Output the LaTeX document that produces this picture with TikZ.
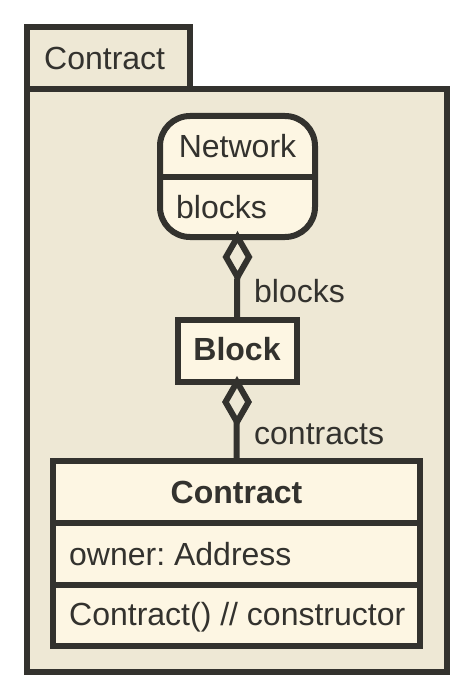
\documentclass[tikz,border=0pt]{standalone}
\usepackage{fontspec}
\setmainfont{Liberation Sans}
\usetikzlibrary{shapes.geometric}
\frenchspacing

\definecolor{ink}{HTML}{33322E}
\definecolor{pkgbg}{HTML}{EEE8D5}
\definecolor{boxbg}{HTML}{FDF6E3}

\tikzset{
  thick line/.style = {draw=ink, line width=6pt},
  classbox/.style = {thick line, fill=boxbg, rectangle, inner sep=0pt, outer sep=0pt},
  diam/.style = {thick line, fill=pkgbg, diamond, inner sep=0pt, outer sep=0pt,
                 minimum width=23pt, minimum height=40pt, anchor=north},
  txt/.style = {inner sep=0pt, text=ink, font=\fontsize{32pt}{38pt}\selectfont},
}

\begin{document}
\begin{tikzpicture}[x=1pt, y=-1pt]
    \useasboundingbox (0,0) rectangle (472,698);

    % package
    \fill[pkgbg] (27,27) rectangle (190,89);
    \fill[pkgbg] (27,89) rectangle (447,672);
    \draw[thick line] (27,89) -- (27,27) -- (190,27) -- (190,89);
    \draw[thick line] (27,89) rectangle (447,672);
    \node[txt, anchor=base west] (pkgname) at (44,70) {Contract};

    % classes
    \node[classbox, rounded corners=30pt, minimum width=155pt, minimum height=121pt] (network) at (237.5,176.5) {};
    \draw[thick line] (160,177) -- (315,177);
    \node[txt, anchor=base] (netname) at (237.5,157) {Network};
    \node[txt, anchor=base west] (netattr) at (176,218) {blocks};

    \node[classbox, minimum width=119pt, minimum height=62pt] (block) at (237,351) {};
    \node[txt, anchor=base] (blockname) at (237,360) {\bfseries Block};

    \node[classbox, minimum width=367pt, minimum height=185pt] (contract) at (236.5,553.5) {};
    \draw[thick line] (53,523) -- (420,523);
    \draw[thick line] (53,585) -- (420,585);
    \node[txt, anchor=base] (contractname) at (236.5,503) {\bfseries Contract};
    \node[txt, anchor=base west] (contractattr) at (69,565) {owner: Address};
    \node[txt, anchor=base west] (contractop) at (69,625) {Contract() // constructor};

    % aggregations
    \draw[thick line] (network.south) -- (block.north);
    \node[diam] (agg1) at (network.south) {};
    \node[txt, anchor=base west] (blockslbl) at (254,302) {blocks};

    \draw[thick line] (block.south) -- (contract.north);
    \node[diam] (agg2) at (block.south) {};
    \node[txt, anchor=base west] (contractslbl) at (254,444) {contracts};
\end{tikzpicture}
\end{document}
